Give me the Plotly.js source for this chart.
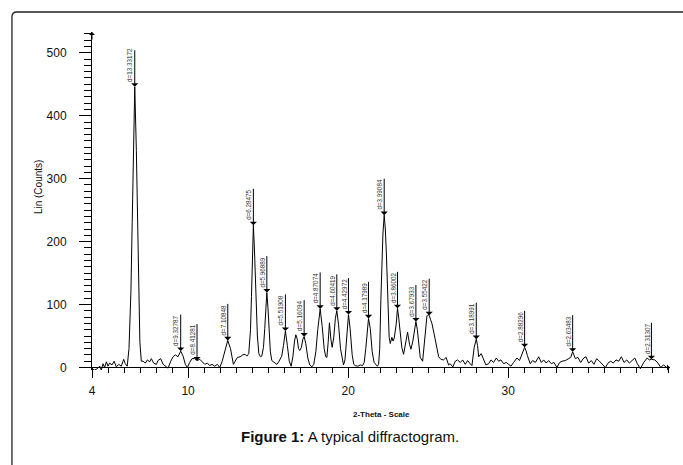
<!DOCTYPE html>
<html>
<head>
<meta charset="utf-8">
<script src="https://cdn.plot.ly/plotly-3.0.1.min.js"></script>
<style>html,body{margin:0;padding:0;background:#fff;}#chart{width:683px;height:465px;}</style>
</head>
<body>
<div id="chart"></div>
<script>
// 2-Theta positions (degrees) of the diffractogram profile
var twoTheta = [
4.0,4.17,4.33,4.48,4.58,4.69,4.79,4.9,5.0,5.1,5.25,5.38,5.52,5.67,5.83,5.98,6.08,6.2,
6.31,6.43,6.51,6.59,6.67,6.77,6.84,6.91,6.99,7.08,
7.19,7.33,7.46,7.6,7.71,7.85,8.02,8.12,8.29,8.44,8.58,8.75,8.92,9.06,9.21,9.37,9.54,9.69,9.83,9.96,
10.1,10.25,10.42,10.56,10.73,10.87,11.04,11.21,11.35,11.5,11.67,11.83,11.98,12.12,12.29,12.48,12.65,12.83,12.94,
13.08,13.25,13.42,13.56,13.67,13.79,13.9,13.96,14.02,14.08,14.15,14.25,14.33,14.42,14.52,14.6,14.71,14.79,14.86,14.92,14.99,
15.06,15.14,15.23,15.38,15.54,15.66,15.75,15.85,15.96,16.08,16.2,16.32,16.44,16.55,16.65,16.73,16.82,16.9,16.98,
17.08,17.17,17.25,17.35,17.48,17.6,17.73,17.85,17.98,18.1,18.25,18.38,18.5,18.6,18.67,18.75,18.83,18.92,19.0,
19.1,19.2,19.29,19.4,19.52,19.63,19.71,19.8,19.9,20.02,20.12,20.25,20.35,20.44,20.6,20.75,20.9,
21.0,21.1,21.18,21.27,21.38,21.5,21.62,21.72,21.82,21.9,21.97,22.04,22.11,22.17,22.25,22.32,22.38,22.48,22.56,22.63,22.73,22.8,22.88,
23.0,23.08,23.15,23.21,23.35,23.46,23.6,23.71,23.83,23.92,24.04,24.13,24.23,24.32,24.4,24.5,24.65,24.77,24.85,24.92,24.99,
25.06,25.15,25.23,25.37,25.5,25.65,25.79,25.96,26.12,26.27,26.37,26.54,26.69,26.83,27.0,27.15,27.31,27.46,27.62,27.73,27.87,
28.0,28.08,28.15,28.31,28.46,28.6,28.77,28.92,29.08,29.25,29.4,29.54,29.71,29.87,30.02,30.17,30.33,30.54,30.7,30.81,30.92,
31.02,31.12,31.19,31.37,31.52,31.69,31.9,32.06,32.21,32.37,32.52,32.69,32.85,33.04,33.21,33.35,33.56,33.77,33.9,
34.02,34.19,34.35,34.52,34.71,34.85,35.02,35.19,35.35,35.52,35.69,35.85,36.06,36.23,36.4,36.56,36.73,36.9,
37.06,37.23,37.4,37.56,37.73,37.9,38.06,38.25,38.46,38.67,38.81,38.94,39.15,39.35,39.52,39.69,39.85,40.02
];
// Intensity, Lin (Counts)
var counts = [
-3,-4,-2,2,-4,6,0,9,2,7,4,10,1,5,2,13,6,2,
30,120,230,345,446,345,230,120,40,10,
10,7,12,9,14,7,5,11,14,5,2,-1,10,17,20,17,26,18,5,0,
8,14,14,11,13,9,5,7,3,5,2,5,0,9,25,43,30,5,10,
16,17,20,21,18,22,60,113,185,226,185,113,50,22,17,18,32,62,100,119,95,
60,25,11,8,5,9,13,18,35,58,35,10,2,18,42,52,45,30,27,
32,45,49,38,15,4,1,5,25,60,93,65,30,17,16,40,71,45,32,
48,78,90,68,30,10,4,12,45,84,62,20,5,3,2,4,3,
8,30,60,78,62,25,8,4,2,5,30,106,170,212,242,220,185,90,48,38,48,42,47,
69,94,80,64,32,21,42,56,37,29,42,58,73,60,42,16,10,42,68,82,84,
83,76,70,53,37,17,13,12,16,4,6,1,10,12,8,12,5,11,6,3,32,
45,35,17,22,12,4,6,12,8,15,10,12,6,8,5,2,8,15,11,19,26,
32,26,19,6,11,8,17,8,12,7,11,6,8,0,8,10,11,14,16,
25,14,16,8,15,17,7,11,5,14,10,6,0,7,10,7,12,10,
17,8,12,7,11,15,6,-2,8,15,12,13,12,7,0,4,1,-2
];
// Labelled reflections
var peakTheta  = [6.67, 9.54, 10.56, 12.48, 14.08, 14.92, 16.08, 17.25, 18.25, 19.29, 20.02, 21.27, 22.25, 23.08, 24.23, 25.06, 28.0, 31.02, 34.02, 38.94];
var peakCounts = [446, 26, 11, 43, 226, 119, 58, 49, 93, 90, 84, 78, 242, 94, 73, 83, 45, 32, 25, 13];
var peakLabels = ["d=13.33172","d=9.32787","d=8.41281","d=7.10848","d=6.28475","d=5.96889","d=5.51908","d=5.16094",
                  "d=4.87074","d=4.60419","d=4.42972","d=4.17989","d=3.99084","d=3.86002","d=3.67933","d=3.55422",
                  "d=3.18991","d=2.88296","d=2.63483","d=2.31307"];
// Axis ticks
var xTickVals = [4, 10, 20, 30];
var xTickText = ["4", "10", "20", "30"];

var yMin = -4, yMax = 533;
var fontFam = "Liberation Sans, Arial, sans-serif";

var trace = {
  x: twoTheta, y: counts, type: "scatter", mode: "lines",
  line: {color: "#000", width: 1}, hoverinfo: "skip"
};

var annotations = [];
for (var i = 0; i < peakTheta.length; i++) {
  annotations.push({
    x: peakTheta[i], y: peakCounts[i], xref: "x", yref: "y",
    text: "", showarrow: true, ax: 0, ay: -38, axref: "pixel", ayref: "pixel",
    arrowhead: 1, arrowsize: 1.2, arrowwidth: 1, arrowcolor: "#000"
  });
  annotations.push({
    x: peakTheta[i], y: peakCounts[i], xref: "x", yref: "y",
    text: peakLabels[i], showarrow: false, textangle: -90,
    xanchor: "center", yanchor: "middle",
    xshift: -4.5, yshift: 5 + peakLabels[i].length * 1.7,
    font: {family: fontFam, size: 6.3, color: "#333"}
  });
}
// axis arrows
annotations.push({x: 4, y: yMax, xref: "x", yref: "y", text: "", showarrow: true, ax: 0, ay: 9,
  arrowhead: 1, arrowsize: 1, arrowwidth: 1, arrowcolor: "#000"});
annotations.push({x: 40.1, y: 0, xref: "x", yref: "y", text: "", showarrow: true, ax: -9, ay: 0,
  arrowhead: 1, arrowsize: 1, arrowwidth: 1, arrowcolor: "#000"});
// titles and caption
annotations.push({x: 0.5, y: -0.133, xref: "paper", yref: "paper", showarrow: false,
  text: "<b>2-Theta - Scale</b>", xanchor: "center", yanchor: "middle",
  font: {family: fontFam, size: 8, color: "#111"}});
annotations.push({x: -0.0935, y: 0.541, xref: "paper", yref: "paper", showarrow: false,
  text: "Lin (Counts)", textangle: -90, xanchor: "center", yanchor: "middle",
  font: {family: fontFam, size: 10, color: "#111"}});
annotations.push({x: 0.4467, y: -0.198, xref: "paper", yref: "paper", showarrow: false,
  text: "<b>Figure 1:</b> A typical diffractogram.", xanchor: "center", yanchor: "middle",
  font: {family: fontFam, size: 15, color: "#111"}});

var layout = {
  width: 683, height: 465,
  margin: {l: 92, r: 13, t: 32, b: 95, pad: 0},
  paper_bgcolor: "#fff", plot_bgcolor: "#fff",
  showlegend: false,
  font: {family: fontFam, color: "#111"},
  xaxis: {
    range: [4, 40.1], anchor: "free", position: (0 - yMin) / (yMax - yMin),
    showline: true, linecolor: "#000", linewidth: 1,
    showgrid: false, zeroline: false,
    tickmode: "array", tickvals: xTickVals, ticktext: xTickText,
    ticks: "outside", ticklen: 10, tickwidth: 1, tickcolor: "#000",
    minor: {dtick: 1, tick0: 0, ticks: "outside", ticklen: 5, tickwidth: 1, tickcolor: "#000", showgrid: false},
    tickfont: {size: 12, color: "#111"}, ticklabelstandoff: 2
  },
  yaxis: {
    range: [yMin, yMax],
    showline: true, linecolor: "#000", linewidth: 1,
    showgrid: false, zeroline: false,
    tick0: 0, dtick: 100,
    ticks: "outside", ticklen: 12, tickwidth: 1, tickcolor: "#000",
    minor: {dtick: 10, tick0: 0, ticks: "outside", ticklen: 7, tickwidth: 1, tickcolor: "#000", showgrid: false},
    tickfont: {size: 12, color: "#111"}, ticklabelstandoff: 10
  },
  shapes: [{
    type: "path", xref: "paper", yref: "paper",
    path: "M -0.1385,-0.3 L -0.1385,1.0444 Q -0.1385,1.0592 -0.1298,1.0592 L 1.05,1.0592",
    line: {color: "#222", width: 1.3}
  }],
  annotations: annotations
};

Plotly.newPlot("chart", [trace], layout, {staticPlot: true, displayModeBar: false});
</script>
</body>
</html>
